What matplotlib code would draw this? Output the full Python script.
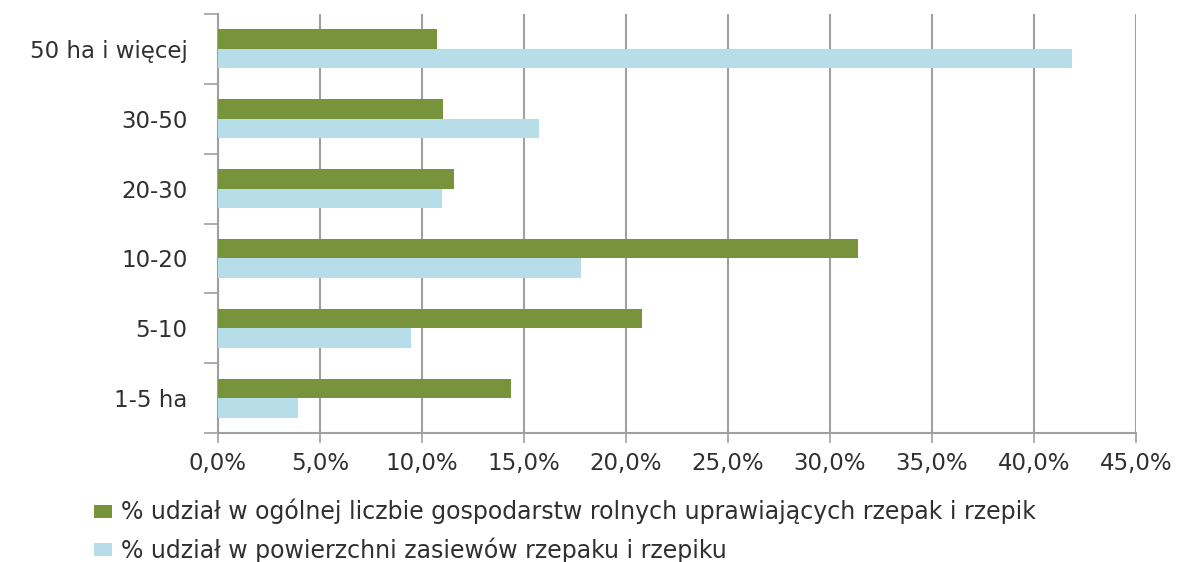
import matplotlib
matplotlib.use("Agg")
import matplotlib.pyplot as plt
import numpy as np

categories = ["1-5 ha", "5-10", "10-20", "20-30", "30-50", "50 ha i więcej"]
share_farms = [14.37, 20.79, 31.37, 11.57, 11.03, 10.74]
share_area = [3.94, 9.47, 17.77, 10.97, 15.73, 41.88]
series_names = ["% udział w ogólnej liczbie gospodarstw rolnych uprawiających rzepak i rzepik",
                "% udział w powierzchni zasiewów rzepaku i rzepiku"]
xticks = [0, 5, 10, 15, 20, 25, 30, 35, 40, 45]

GREEN = "#77933C"
BLUE = "#B7DEE8"
GRID = "#A0A0A0"
TXT = "#303030"

plt.rcParams['font.family'] = ['DejaVu Sans']

W, H = 1178, 562
fig = plt.figure(figsize=(W / 100, H / 100), dpi=100)
ax = fig.add_axes([218 / W, 1 - 433 / H, (1136 - 218) / W, (433 - 14) / H])

y = np.arange(len(categories))
bh = 0.28
b1 = ax.barh(y + bh / 2, share_farms, height=bh, color=GREEN, label=series_names[0], zorder=3)
b2 = ax.barh(y - bh / 2, share_area, height=bh, color=BLUE, label=series_names[1], zorder=3)

ax.set_xlim(0, 45)
ax.set_ylim(-0.5, len(categories) - 0.5)
ax.set_xticks(xticks)
ax.set_xticklabels([f"{v:.1f}%".replace(".", ",") for v in xticks], fontsize=16.5, color=TXT)
ax.set_yticks(y)
ax.set_yticklabels(categories, fontsize=16.5, color=TXT)
ax.set_yticks(np.arange(-0.5, len(categories), 1.0), minor=True)
ax.tick_params(axis='y', which='major', length=0, pad=22)
ax.tick_params(axis='y', which='minor', length=10, width=1.2, color=GRID, direction='out')
ax.tick_params(axis='x', which='major', length=7, width=1.2, color=GRID, direction='out', pad=7)
ax.grid(axis='x', color=GRID, linewidth=1.5, zorder=0)
for s in ["top", "right"]:
    ax.spines[s].set_visible(False)
for s in ["left", "bottom"]:
    ax.spines[s].set_color(GRID)
    ax.spines[s].set_linewidth(1.5)

fig.legend(handles=[b1, b2], loc='upper left', bbox_to_anchor=(94 / W, 1 - 499 / H),
           frameon=False, fontsize=17, handlelength=0.75, handleheight=0.47,
           handletextpad=0.4, labelspacing=0.55, labelcolor=TXT,
           borderpad=0, borderaxespad=0)

fig.savefig("out.png", dpi=100)
